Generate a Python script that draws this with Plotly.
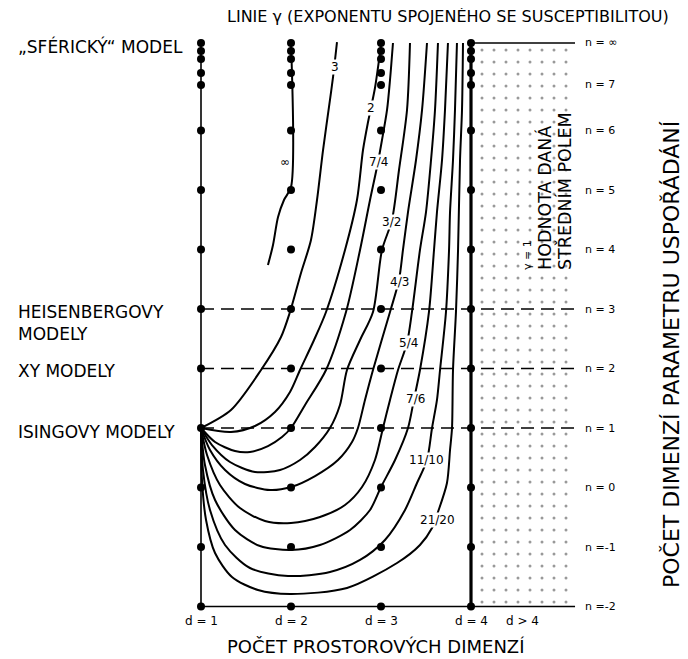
import plotly.graph_objects as go

# ------------------------------------------------------------------
# DATA  (x = d, number of spatial dimensions; y = position of n level)
# ------------------------------------------------------------------
DIMENSIONS = [1, 2, 3, 4]
# positions of the n levels on the vertical scale (top ones compressed, last one = infinity)
LEVELS = [-2, -1, 0, 1, 2, 3, 4, 5, 6, 6.765, 6.966, 7.202, 7.336, 7.471]
RIGHT_TICK_POS = [-2, -1, 0, 1, 2, 3, 4, 5, 6, 6.765, 7.471]
RIGHT_TICK_TEXT = ["n =-2", "n =-1", "n = 0", "n = 1", "n = 2", "n = 3",
                   "n = 4", "n = 5", "n = 6", "n = 7", "n = \u221e"]
DASHED_LEVELS = [1, 2, 3]
N_MIN = -2
N_INF = 7.471
D_RIGHT_END = 5.156
D_MEAN_FIELD = 4

# lines of constant gamma
D_GINF = [1.744, 1.8, 1.856, 1.922, 2.0, 2.0]
N_GINF = [3.739, 4.076, 4.546, 4.832, 5.05, 7.471]

D_G3 = [1.0, 1.333, 1.667, 1.889, 1.989, 2.111, 2.222, 2.289, 2.356, 2.433, 2.467, 2.489, 2.511]
N_G3 = [1.0, 1.303, 1.975, 2.529, 2.95, 3.605, 4.16, 4.832, 5.672, 6.513, 6.899, 7.185, 7.487]

D_G2 = [1.0, 1.333, 1.6, 1.822, 1.989, 2.1, 2.256, 2.389, 2.6, 2.733, 2.8, 2.856, 2.933, 2.978, 3.0]
N_G2 = [1.0, 0.933, 1.034, 1.269, 1.605, 1.975, 2.479, 2.95, 3.992, 4.832, 5.672, 6.143, 6.714, 7.185, 7.44]

D_G74 = [1.0, 1.156, 1.378, 1.544, 1.744, 1.9, 2.0, 2.156, 2.389, 2.611, 2.767, 2.878, 2.967, 3.011, 3.067, 3.1, 3.133]
N_G74 = [1.0, 0.765, 0.613, 0.597, 0.697, 0.849, 1.0, 1.387, 1.975, 2.95, 3.992, 4.832, 5.471, 5.84, 6.345, 6.849, 7.471]

D_G32 = [1.0, 1.122, 1.322, 1.6, 1.878, 2.1, 2.267, 2.433, 2.544, 2.622, 2.767, 2.911, 3.011, 3.122, 3.2, 3.289, 3.322]
N_G32 = [1.0, 0.714, 0.429, 0.261, 0.294, 0.462, 0.681, 1.0, 1.387, 1.975, 2.479, 2.95, 3.992, 4.496, 5.336, 6.345, 7.471]

D_G43 = [1.0, 1.1, 1.267, 1.489, 1.767, 2.0, 2.267, 2.522, 2.678, 2.744, 2.822, 2.911, 3.1, 3.2, 3.244, 3.3, 3.389, 3.456, 3.511]
N_G43 = [1.0, 0.63, 0.294, 0.059, -0.042, 0.008, 0.193, 0.462, 0.765, 1.0, 1.471, 1.975, 2.95, 3.487, 3.992, 4.63, 5.504, 6.345, 7.471]

D_G54 = [1.0, 1.067, 1.211, 1.433, 1.711, 2.0, 2.322, 2.6, 2.789, 2.933, 3.022, 3.1, 3.189, 3.289, 3.344, 3.433, 3.5, 3.556, 3.6, 3.633]
N_G54 = [1.0, 0.546, 0.042, -0.345, -0.563, -0.597, -0.496, -0.294, 0.008, 0.462, 1.0, 1.471, 1.975, 2.429, 2.95, 3.992, 4.63, 5.504, 6.345, 7.471]

D_G76 = [1.0, 1.044, 1.156, 1.378, 1.656, 2.0, 2.322, 2.656, 2.878, 3.0, 3.156, 3.3, 3.367, 3.433, 3.533, 3.589, 3.622, 3.678, 3.711, 3.744]
N_G76 = [1.0, 0.378, -0.21, -0.714, -0.983, -1.05, -0.966, -0.714, -0.378, 0.008, 0.462, 1.0, 1.487, 1.975, 2.95, 3.992, 4.63, 5.504, 6.345, 7.471]

D_G1110 = [1.0, 1.022, 1.1, 1.267, 1.544, 1.967, 2.433, 2.767, 3.044, 3.267, 3.4, 3.511, 3.567, 3.622, 3.656, 3.722, 3.756, 3.767, 3.8, 3.822, 3.844]
N_G1110 = [1.0, 0.294, -0.378, -0.966, -1.353, -1.487, -1.42, -1.218, -0.882, -0.378, 0.076, 0.462, 1.0, 1.471, 1.975, 2.95, 3.992, 4.63, 5.504, 6.345, 7.471]

D_G2120 = [1.0, 1.011, 1.056, 1.156, 1.344, 1.633, 1.989, 2.622, 3.178, 3.433, 3.567, 3.633, 3.733, 3.767, 3.789, 3.8, 3.833, 3.856, 3.878, 3.9, 3.911]
N_G2120 = [1.0, 0.126, -0.546, -1.101, -1.504, -1.723, -1.79, -1.689, -1.269, -0.966, -0.681, -0.412, 0.076, 0.63, 1.0, 1.975, 2.95, 3.992, 5.504, 6.345, 7.471]

CURVES = [
    (D_GINF, N_GINF), (D_G3, N_G3), (D_G2, N_G2), (D_G74, N_G74), (D_G32, N_G32),
    (D_G43, N_G43), (D_G54, N_G54), (D_G76, N_G76), (D_G1110, N_G1110), (D_G2120, N_G2120),
]

# curve labels and where they sit on the curves
CURVE_LABELS = ["\u221e", "3", "2", "7/4", "3/2", "4/3", "5/4", "7/6", "11/10", "21/20"]
CURVE_LABEL_D = [1.93, 2.489, 2.889, 2.967, 3.122, 3.2, 3.3, 3.378, 3.511, 3.633]
CURVE_LABEL_N = [5.47, 7.067, 6.378, 5.471, 4.462, 3.454, 2.429, 1.487, 0.462, -0.546]

D_LABELS = ["d = 1", "d = 2", "d = 3", "d = 4", "d > 4"]
D_LABEL_POS = [1, 2, 3, 4, 4.567]

# ------------------------------------------------------------------
# the page has an 8 px body margin, so the figure is drawn 8 px smaller
OFF = 8
W, H = 688 - OFF, 659 - OFF
FONT = "DejaVu Sans, sans-serif"

fig = go.Figure()

# stippled mean-field region (d > 4)
fig.add_trace(go.Scatter(
    x=[D_MEAN_FIELD, D_RIGHT_END, D_RIGHT_END, D_MEAN_FIELD],
    y=[N_MIN, N_MIN, N_INF, N_INF],
    fill="toself", mode="none", hoverinfo="skip",
    fillcolor="white",
    fillpattern=dict(shape=".", fgcolor="#333", bgcolor="white", size=12, solidity=0.05),
))

# horizontal dashed lines for Ising, XY, Heisenberg
for lv in DASHED_LEVELS:
    fig.add_trace(go.Scatter(x=[DIMENSIONS[0], D_RIGHT_END], y=[lv, lv], mode="lines",
                             line=dict(color="black", width=1.6, dash="13px,7px"), hoverinfo="skip"))

# solid frame lines
fig.add_trace(go.Scatter(x=[DIMENSIONS[0], D_RIGHT_END], y=[N_MIN, N_MIN], mode="lines",
                         line=dict(color="black", width=1.6), hoverinfo="skip"))
fig.add_trace(go.Scatter(x=[D_MEAN_FIELD, D_RIGHT_END], y=[N_INF, N_INF], mode="lines",
                         line=dict(color="black", width=1.6), hoverinfo="skip"))
fig.add_trace(go.Scatter(x=[DIMENSIONS[0], DIMENSIONS[0]], y=[N_MIN, N_INF], mode="lines",
                         line=dict(color="black", width=1.6), hoverinfo="skip"))
fig.add_trace(go.Scatter(x=[D_MEAN_FIELD, D_MEAN_FIELD], y=[N_MIN, N_INF], mode="lines",
                         line=dict(color="black", width=3.2), hoverinfo="skip"))

# gamma curves
for dx, ny in CURVES:
    fig.add_trace(go.Scatter(x=dx, y=ny, mode="lines", hoverinfo="skip",
                             line=dict(color="black", width=2, shape="spline", smoothing=0.8)))

# lattice dots
for d in DIMENSIONS:
    fig.add_trace(go.Scatter(x=[d] * len(LEVELS), y=LEVELS, mode="markers", hoverinfo="skip",
                             marker=dict(color="black", size=8)))

ann = []
for t, dx, ny in zip(CURVE_LABELS, CURVE_LABEL_D, CURVE_LABEL_N):
    ann.append(dict(x=dx, y=ny, xref="x", yref="y", text=t, showarrow=False,
                    bgcolor="white", borderpad=0,
                    font=dict(family=FONT, size=12, color="black")))

for t, ny in zip(RIGHT_TICK_TEXT, RIGHT_TICK_POS):
    ann.append(dict(x=D_RIGHT_END + 0.09, y=ny, xref="x", yref="y", text=t, showarrow=False,
                    xanchor="left", font=dict(family=FONT, size=11, color="black")))

for t, dx in zip(D_LABELS, D_LABEL_POS):
    ann.append(dict(x=dx, y=N_MIN - 0.25, xref="x", yref="y", text=t, showarrow=False,
                    font=dict(family=FONT, size=12, color="black")))


def P(x, y):
    return (x - OFF) / W, 1 - (y - OFF) / H


def text(x, y, t, size, xanchor="center", yanchor="middle", angle=0):
    px, py = P(x, y)
    ann.append(dict(x=px, y=py, xref="paper", yref="paper", text=t, showarrow=False,
                    xanchor=xanchor, yanchor=yanchor, textangle=angle,
                    font=dict(family=FONT, size=size, color="black")))


text(448, 16, "LINIE \u03b3 (EXPONENTU SPOJENÉHO SE SUSCEPTIBILITOU)", 16)
text(16, 47, "\u201eSFÉRICKÝ\u201c MODEL", 17, xanchor="left")
text(16, 312, "HEISENBERGOVY", 17, xanchor="left")
text(16, 334, "MODELY", 17, xanchor="left")
text(16, 371, "XY MODELY", 17, xanchor="left")
text(16, 432, "ISINGOVY MODELY", 17, xanchor="left")
text(375, 659, "POČET PROSTOROVÝCH DIMENZÍ", 18, yanchor="bottom")
text(671, 355, "POČET DIMENZÍ PARAMETRU USPOŘÁDÁNÍ", 22, angle=-90)
text(527, 272, "\u03b3 = 1", 11, yanchor="bottom", angle=-90)
text(544, 272, "HODNOTA DANÁ", 17.5, yanchor="bottom", angle=-90)
text(564, 272, "STŘEDNÍM POLEM", 17.5, yanchor="bottom", angle=-90)

# axis ranges chosen so that d and n map onto the page like the reference
fig.update_layout(
    width=W, height=H,
    margin=dict(l=0, r=0, t=0, b=0, pad=0, autoexpand=False),
    paper_bgcolor="white", plot_bgcolor="white",
    showlegend=False,
    annotations=ann,
    xaxis=dict(range=[1 + (OFF - 201) / 90, 1 + (688 - 201) / 90], visible=False, fixedrange=True),
    yaxis=dict(range=[1 + (428 - 659) / 59.5, 1 + (428 - OFF) / 59.5], visible=False, fixedrange=True),
)

fig.write_html("out.html")
